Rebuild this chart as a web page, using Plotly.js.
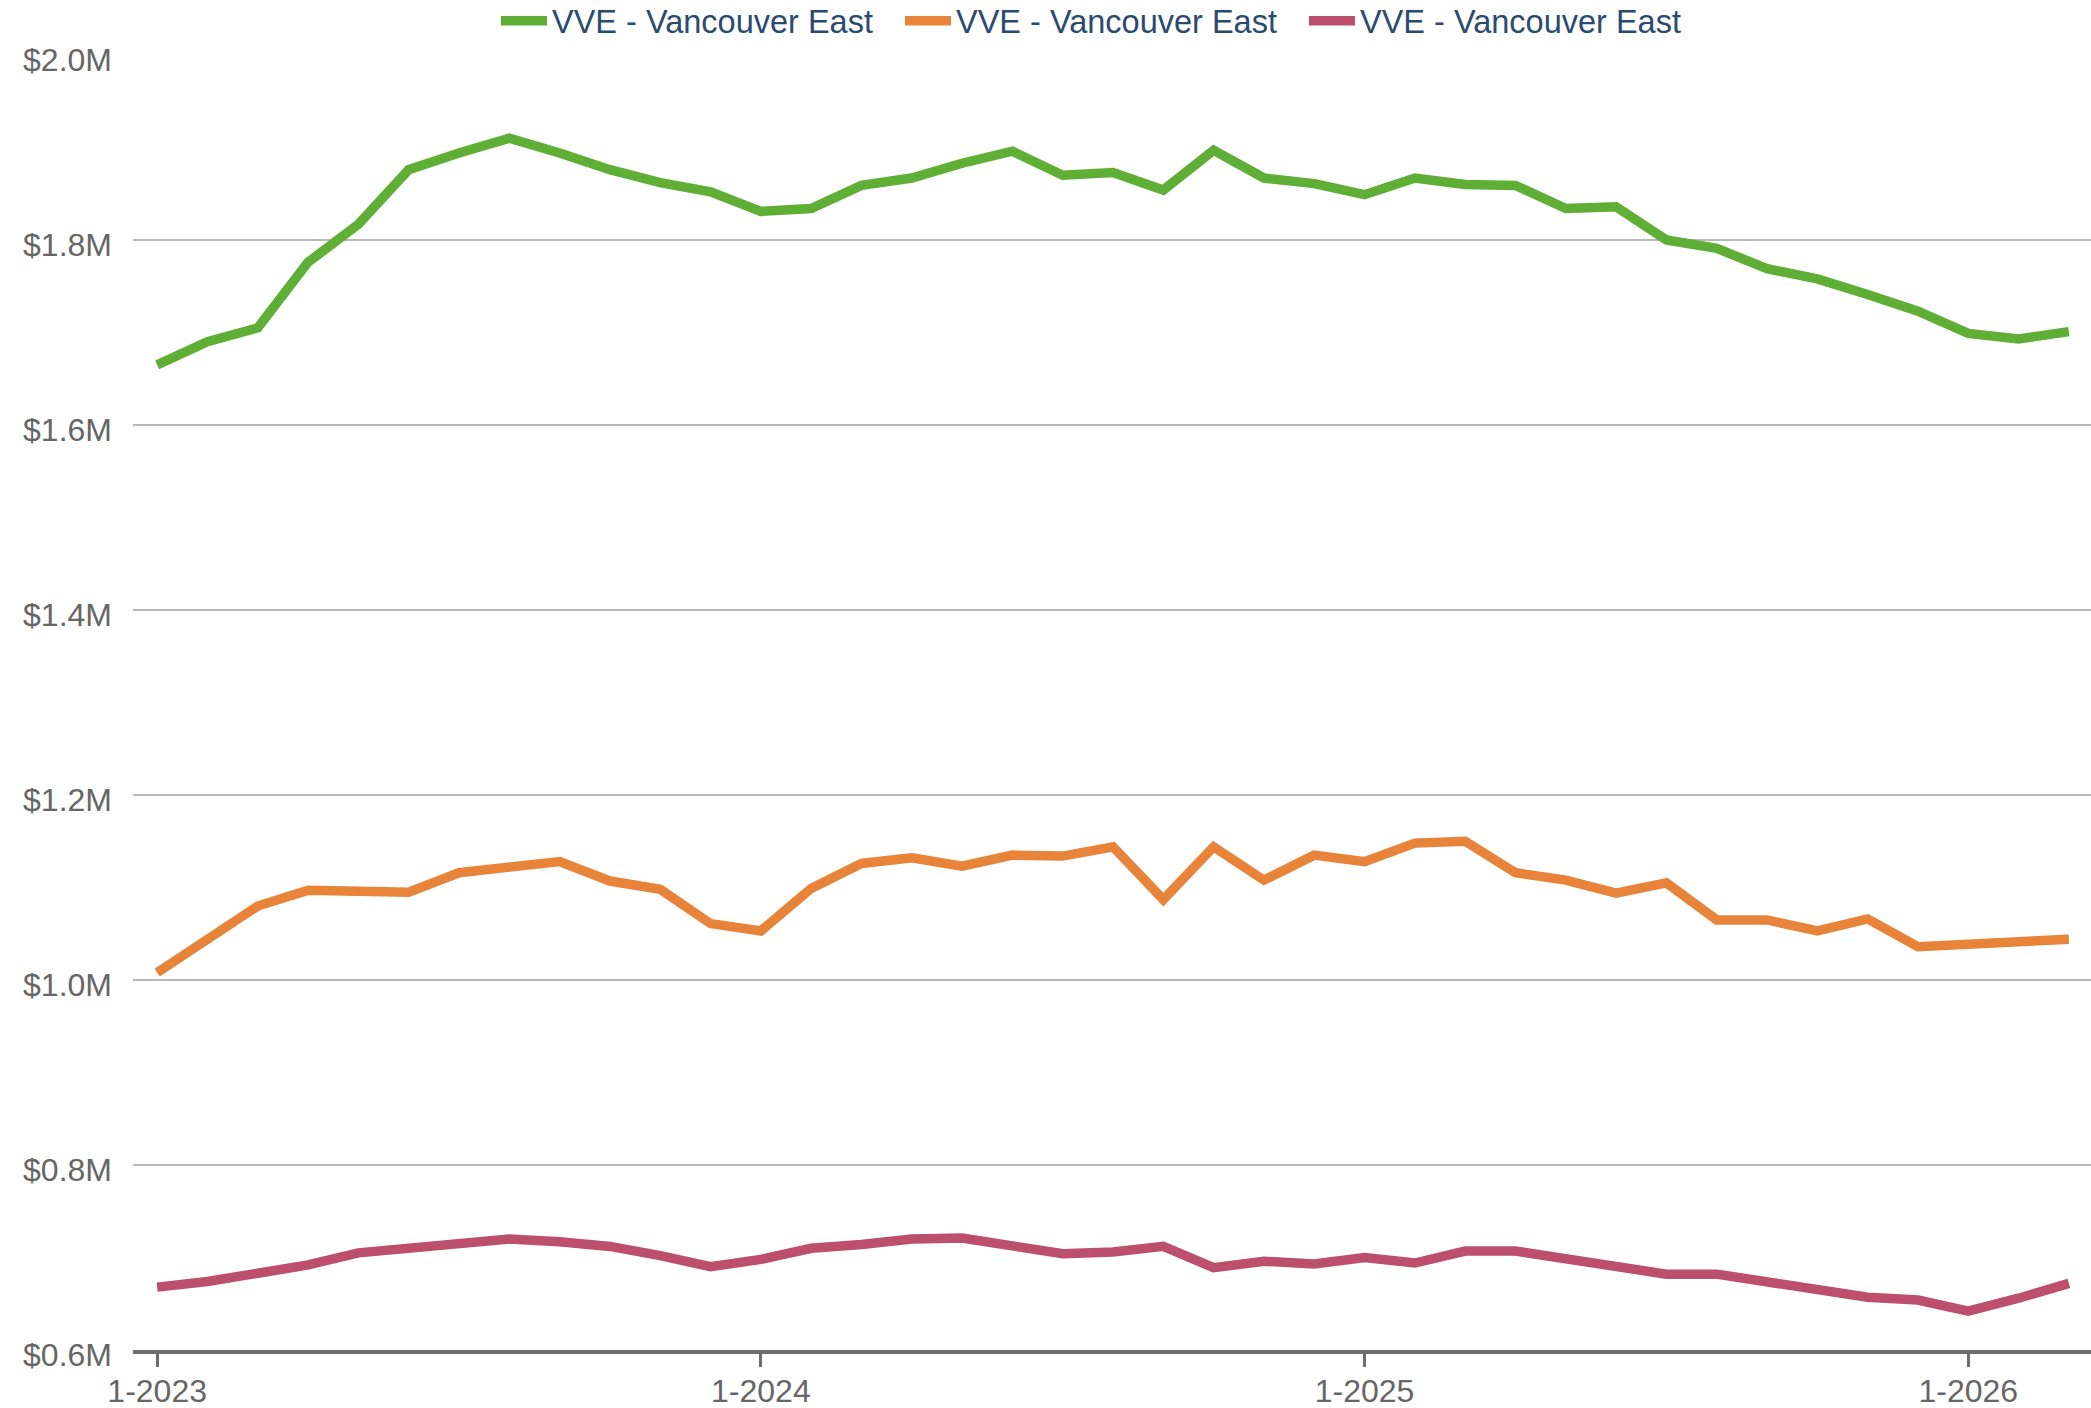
<!DOCTYPE html>
<html>
<head>
<meta charset="utf-8">
<script src="https://cdn.plot.ly/plotly-3.0.1.min.js"></script>
<style>
  html, body { margin: 0; padding: 0; background: #ffffff; }
  #chart { width: 2091px; height: 1408px; }
</style>
</head>
<body>
<div id="chart"></div>
<script>
// Months (categories), Jan 2023 .. Mar 2026
const months = [
  "1-2023","2-2023","3-2023","4-2023","5-2023","6-2023","7-2023","8-2023","9-2023","10-2023","11-2023","12-2023",
  "1-2024","2-2024","3-2024","4-2024","5-2024","6-2024","7-2024","8-2024","9-2024","10-2024","11-2024","12-2024",
  "1-2025","2-2025","3-2025","4-2025","5-2025","6-2025","7-2025","8-2025","9-2025","10-2025","11-2025","12-2025",
  "1-2026","2-2026","3-2026"
];

const seriesNames = ["VVE - Vancouver East", "VVE - Vancouver East", "VVE - Vancouver East"];

// Values in millions of dollars
const greenSeries = [
  1.665, 1.690, 1.705, 1.776, 1.817, 1.876, 1.894, 1.910, 1.894, 1.876, 1.862, 1.852,
  1.831, 1.834, 1.859, 1.867, 1.883, 1.896, 1.870, 1.873, 1.854, 1.897, 1.867, 1.861,
  1.849, 1.867, 1.860, 1.859, 1.834, 1.836, 1.800, 1.791, 1.769, 1.758, 1.741, 1.723,
  1.699, 1.693, 1.701
];
const orangeSeries = [
  1.008, 1.043, 1.080, 1.097, 1.097, 1.095, 1.116, 1.123, 1.128, 1.107, 1.098, 1.061,
  1.053, 1.099, 1.126, 1.132, 1.123, 1.135, 1.134, 1.144, 1.087, 1.144, 1.108, 1.135,
  1.128, 1.148, 1.150, 1.116, 1.108, 1.094, 1.105, 1.065, 1.065, 1.053, 1.066, 1.036,
  1.038, 1.041, 1.044
];
const pinkSeries = [
  0.668, 0.674, 0.683, 0.692, 0.705, 0.710, 0.715, 0.720, 0.717, 0.712, 0.702, 0.690,
  0.698, 0.710, 0.714, 0.720, 0.721, 0.713, 0.704, 0.706, 0.712, 0.689, 0.696, 0.693,
  0.700, 0.694, 0.707, 0.707, 0.699, 0.689, 0.682, 0.682, 0.673, 0.665, 0.657, 0.654,
  0.642, 0.656, 0.672
];

const seriesColors = ["#5fae35", "#e8833a", "#bc4f6e"];

const xTickVals = ["1-2023", "1-2024", "1-2025", "1-2026"];
const yTickVals = [0.6, 0.8, 1.0, 1.2, 1.4, 1.6, 1.8, 2.0];
const yTickText = ["$0.6M", "$0.8M", "$1.0M", "$1.2M", "$1.4M", "$1.6M", "$1.8M", "$2.0M"];

const allSeries = [greenSeries, orangeSeries, pinkSeries];
const traces = allSeries.map((vals, i) => ({
  type: "scatter",
  mode: "lines",
  x: months,
  y: vals,
  name: seriesNames[i],
  line: { color: seriesColors[i], width: 9.5, shape: "linear" },
  hoverinfo: "x+y"
}));

const layout = {
  width: 2091,
  height: 1408,
  paper_bgcolor: "#ffffff",
  plot_bgcolor: "#ffffff",
  font: { family: "Liberation Sans, Arial, sans-serif", size: 32, color: "#666666" },
  margin: { l: 133, r: 0, t: 55, b: 58, pad: 0 },
  showlegend: true,
  legend: {
    orientation: "h",
    xref: "container",
    yref: "container",
    x: 0.2372,
    xanchor: "left",
    y: 0.985,
    yanchor: "middle",
    font: { size: 32.5, color: "#2c4a6e" },
    bgcolor: "rgba(0,0,0,0)",
    itemwidth: 46,
    entrywidth: 343,
    entrywidthmode: "pixels",
    tracegroupgap: 0
  },
  xaxis: {
    type: "category",
    range: [-0.48, 38.44],
    tickmode: "array",
    tickvals: xTickVals,
    ticktext: xTickVals,
    ticks: "outside",
    ticklen: 13,
    tickwidth: 3,
    tickcolor: "#6d6d6d",
    showline: true,
    linecolor: "#6d6d6d",
    linewidth: 4,
    showgrid: false,
    zeroline: false,
    ticklabelstandoff: -3,
    tickfont: { size: 32, color: "#666666" }
  },
  yaxis: {
    range: [0.6, 2.0],
    tickmode: "array",
    tickvals: yTickVals,
    ticktext: yTickText,
    showgrid: true,
    gridcolor: "#b8b8b8",
    gridwidth: 2,
    showline: false,
    zeroline: false,
    ticks: "",
    ticklabelstandoff: 20,
    ticklabelshift: 5,
    tickfont: { size: 32, color: "#666666" }
  }
};

Plotly.newPlot("chart", traces, layout, { displayModeBar: false, responsive: false });
</script>
</body>
</html>
